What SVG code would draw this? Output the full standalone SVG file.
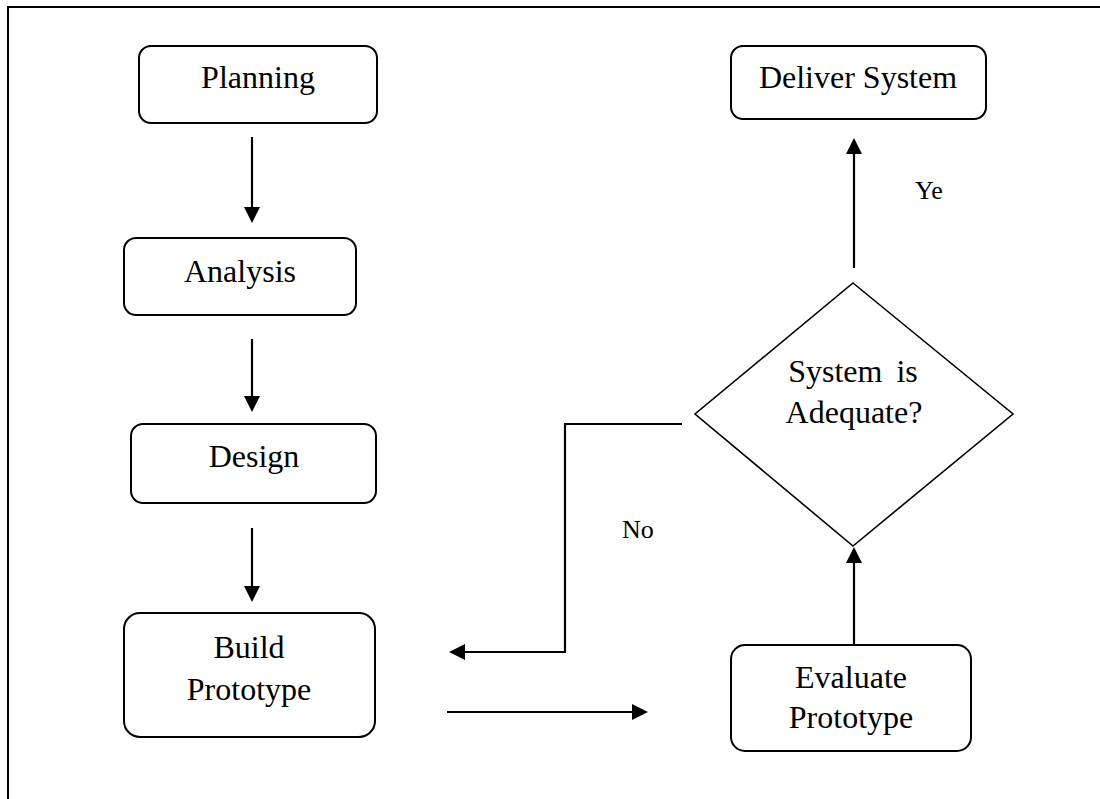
<svg xmlns="http://www.w3.org/2000/svg" width="1100" height="799" viewBox="0 0 1100 799">
  <style>
    .box { fill: #fff; stroke: #000; stroke-width: 2; }
    .dec { fill: #fff; stroke: #000; stroke-width: 1.6; }
    .lbl { font-family: "Liberation Serif", "Times New Roman", serif; font-size: 32px; fill: #000; text-anchor: middle; }
    .edge { font-family: "Liberation Serif", "Times New Roman", serif; font-size: 26px; fill: #000; }
    .wire { fill: none; stroke: #000; stroke-width: 2.2; }
  </style>
  <defs>
    <marker id="head" viewBox="0 0 16 16" refX="8" refY="8" markerWidth="16" markerHeight="16" markerUnits="userSpaceOnUse" orient="auto">
      <path d="M0,0 L16,8 L0,16 Z" fill="#000"/>
    </marker>
  </defs>

  <rect width="1100" height="799" fill="#fff"/>
  <!-- page frame (top and left edges) -->
  <path d="M8,799 V7 H1100" fill="none" stroke="#000" stroke-width="2"/>

  <g id="planning">
    <rect class="box" x="139" y="46" width="238" height="77" rx="12"/>
    <text class="lbl" x="258" y="88">Planning</text>
  </g>
  <g id="analysis">
    <rect class="box" x="124" y="238" width="232" height="77" rx="12"/>
    <text class="lbl" x="240" y="282">Analysis</text>
  </g>
  <g id="design">
    <rect class="box" x="131" y="424" width="245" height="79" rx="12"/>
    <text class="lbl" x="254" y="467">Design</text>
  </g>
  <g id="build-prototype">
    <rect class="box" x="124" y="613" width="251" height="124" rx="16"/>
    <text class="lbl" x="249" y="658">Build</text>
    <text class="lbl" x="249" y="700">Prototype</text>
  </g>
  <g id="deliver-system">
    <rect class="box" x="731" y="46" width="255" height="73" rx="12"/>
    <text class="lbl" x="858" y="88">Deliver System</text>
  </g>
  <g id="system-adequate">
    <polygon class="dec" points="853,283 1013,414 853,546 695,414"/>
    <text class="lbl" x="853" y="382" word-spacing="6">System is</text>
    <text class="lbl" x="854" y="423">Adequate?</text>
  </g>
  <g id="evaluate-prototype">
    <rect class="box" x="731" y="645" width="240" height="106" rx="14"/>
    <text class="lbl" x="851" y="688">Evaluate</text>
    <text class="lbl" x="851" y="728">Prototype</text>
  </g>

  <g id="connectors">
    <path class="wire" d="M252,137 V215" marker-end="url(#head)"/>
    <path class="wire" d="M252,339 V404" marker-end="url(#head)"/>
    <path class="wire" d="M252,528 V594" marker-end="url(#head)"/>
    <path class="wire" d="M447,712 H640" marker-end="url(#head)"/>
    <path class="wire" d="M854,645 V555" marker-end="url(#head)"/>
    <path class="wire" d="M854,268 V146" marker-end="url(#head)"/>
    <path class="wire" d="M682,424 H565 V652 H457" marker-end="url(#head)"/>
    <text class="edge" x="915" y="199">Ye</text>
    <text class="edge" x="622" y="538">No</text>
  </g>
</svg>
